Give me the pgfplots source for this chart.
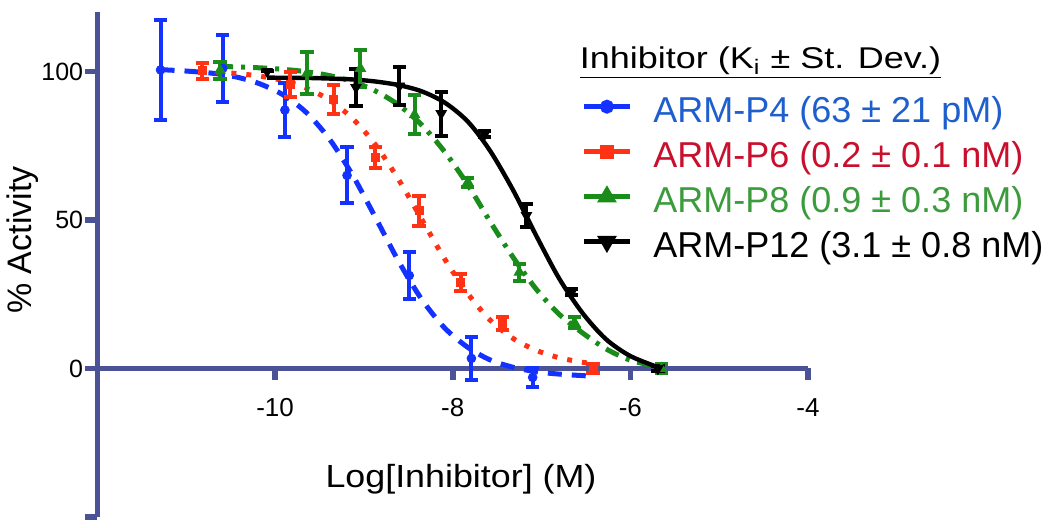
\documentclass[border=0pt]{standalone}
\usepackage{fontspec}
\setmainfont{Liberation Sans}
\usepackage{pgfplots}
\usepackage{pgfplotstable}
\pgfplotsset{compat=1.18}
\usepackage{graphicx}

\definecolor{axc}{RGB}{75,83,150}
\definecolor{cblue}{RGB}{20,50,255}
\definecolor{cred}{RGB}{255,50,20}
\definecolor{cgreen}{RGB}{25,140,25}
\definecolor{tblue}{RGB}{30,95,205}
\definecolor{tred}{RGB}{200,15,45}
\definecolor{tgreen}{RGB}{60,155,60}

% data points: log concentration, % activity, st. dev.
\pgfplotstableread{
x y e
-11.29 100.5 16.8
-10.59 101.0 11.2
-9.89 87.0 9.0
-9.19 65.0 9.4
-8.49 31.3 7.8
-7.79 3.4 7.3
-7.10 -3.0 3.1
}\dataPfour
\pgfplotstableread{
x y e
-10.82 100.2 2.8
-9.83 95.5 4.2
-9.34 90.5 5.0
-8.87 71.0 3.5
-8.38 53.1 5.0
-7.91 29.0 2.8
-7.44 15.1 2.2
-6.42 0.0 1.5
}\dataPsix
\pgfplotstableread{
x y e
-10.62 100.4 2.8
-9.64 99.4 7.0
-9.04 101.0 6.2
-8.43 85.4 6.5
-7.83 62.7 1.5
-7.25 32.4 2.8
-6.63 15.5 1.9
-5.65 0.0 1.5
}\dataPeight
\pgfplotstableread{
x y e
-10.09 100.0 0.0
-9.09 94.6 6.2
-8.60 95.1 6.3
-8.13 85.8 7.4
-7.64 78.9 1.0
-7.17 51.5 4.0
-6.66 25.7 1.0
-5.69 0.0 1.0
}\dataPtwelve

\pgfplotsset{
  ebar/.style={error bars/.cd, y dir=both, y explicit,
    error bar style={line width=2pt, #1, solid},
    error mark options={#1, line width=2pt, mark size=3.3pt, solid, rotate=90}},
}

\begin{document}
\begin{tikzpicture}
\begin{axis}[
  name=ax,
  width=355.25pt, height=252.5pt, scale only axis,
  xmin=-12, xmax=-4, ymin=-50, ymax=120,
  axis x line=middle, axis y line=left,
  axis line style={axc, line width=2.8pt, -},
  every tick/.style={axc, line width=2.8pt},
  tick align=outside,
  major tick length=6pt,
  xtick={-10,-8,-6,-4}, xticklabels={-10,-8,-6,-4},
  ytick={-50,0,50,100}, yticklabels={,0,50,100},
  xticklabel style={font=\fontsize{13}{15}\selectfont, anchor=base, inner sep=0pt, yshift=-18pt},
  yticklabel style={font=\fontsize{12.5}{15}\selectfont, anchor=east, inner sep=0pt, xshift=-1pt},
  xlabel={\scalebox{1.12}[1]{Log[Inhibitor] (M)}},
  xlabel style={font=\fontsize{16}{18}\selectfont, at={(axis description cs:0.5116,0.0594)}, anchor=base, inner sep=0pt},
  ylabel={\% Activity},
  ylabel style={font=\fontsize{17}{19}\selectfont, at={(axis description cs:-0.0926,0.5485)}, anchor=base, rotate=0, inner sep=0pt},
  clip=false,
  legend style={at={(axis cs:-6.551,91.5)}, anchor=north west, draw=none, fill=none,
    inner sep=0pt, outer sep=0pt, font=\fontsize{18}{20}\selectfont, row sep=5.5pt,
    nodes={inner sep=0pt, text height=13pt, text depth=4pt},
    /tikz/every odd column/.append style={column sep=10.5pt}},
  legend cell align=left,
  legend image code/.code={\draw[mark repeat=2, mark phase=2, #1] plot coordinates {(0pt,3.5pt) (11.5pt,3.5pt) (23pt,3.5pt)};},
]

% fitted curves
\addplot[forget plot, cblue, line width=2.5pt, dash pattern=on 7pt off 5pt, smooth] coordinates {
(-11.29,100.6) (-10.99,100.1) (-10.68,99.3) (-10.42,98.0) (-10.17,95.8) (-9.91,92.1)
(-9.65,86.2) (-9.39,77.3) (-9.13,65.2) (-8.87,50.8) (-8.61,36.1) (-8.35,23.3)
(-8.09,13.6) (-7.83,7.1) (-7.58,2.9) (-7.32,0.4) (-7.06,-1.1) (-6.80,-1.9)
(-6.54,-2.4) (-6.48,-2.5)};
\addplot[forget plot, cred, line width=2.5pt, dash pattern=on 2.5pt off 5pt, smooth] coordinates {
(-10.83,100.0) (-10.68,99.8) (-10.42,99.25) (-10.17,98.4) (-9.91,96.9) (-9.65,94.4)
(-9.39,90.4) (-9.13,84.2) (-8.87,75.3) (-8.61,63.6) (-8.35,50.25) (-8.09,36.8)
(-7.83,25.2) (-7.58,16.3) (-7.32,10.1) (-7.06,6.1) (-6.80,3.6) (-6.54,2.1) (-6.42,1.6)};
\addplot[forget plot, cgreen, line width=2.5pt, dash pattern=on 7pt off 4pt on 2pt off 4pt, smooth] coordinates {
(-10.63,101.7) (-10.42,101.5) (-10.17,101.2) (-9.91,100.7) (-9.65,99.9) (-9.39,98.6)
(-9.13,96.6) (-8.87,93.4) (-8.61,88.7) (-8.35,82.0) (-8.09,72.9) (-7.83,61.8)
(-7.58,49.5) (-7.32,37.4) (-7.06,26.7) (-6.80,18.2) (-6.54,12.0) (-6.28,6.7)
(-6.02,3.0) (-5.76,1.0) (-5.65,0.3)};
\addplot[forget plot, black, line width=2.2pt, smooth] coordinates {
(-10.09,97.9) (-9.65,97.8) (-9.39,97.6) (-9.13,97.3) (-8.87,96.6) (-8.61,95.4)
(-8.35,93.3) (-8.09,89.5) (-7.83,83.1) (-7.58,73.3) (-7.32,60.0) (-7.06,44.7)
(-6.80,30.2) (-6.54,18.7) (-6.28,10.0) (-6.02,4.5) (-5.76,1.2) (-5.69,0.5)};

% data with error bars
\addplot[forget plot, cblue, only marks, mark=*, mark size=2.2pt, ebar=cblue]
  table[x=x, y=y, y error=e] {\dataPfour};
\addplot[forget plot, cred, only marks, mark=square*, mark size=2pt, ebar=cred]
  table[x=x, y=y, y error=e] {\dataPsix};
\addplot[forget plot, cgreen, only marks, mark=triangle*, mark size=3pt, ebar=cgreen]
  table[x=x, y=y, y error=e] {\dataPeight};
\addplot[forget plot, black, only marks, mark=triangle*, mark options={rotate=180}, mark size=3pt, ebar=black]
  table[x=x, y=y, y error=e] {\dataPtwelve};

% legend
\addlegendimage{cblue, line width=2.5pt, mark=*, mark size=2.2pt}
\addlegendentry{\textcolor{tblue}{ARM-P4 (63 ± 21 pM)}}
\addlegendimage{cred, line width=2.5pt, mark=square*, mark size=2.2pt}
\addlegendentry{\textcolor{tred}{ARM-P6 (0.2 ± 0.1 nM)}}
\addlegendimage{cgreen, line width=2.5pt, mark=triangle*, mark size=3.2pt}
\addlegendentry{\textcolor{tgreen}{ARM-P8 (0.9 ± 0.3 nM)}}
\addlegendimage{black, line width=2.5pt, mark=triangle*, mark options={rotate=180}, mark size=3.2pt}
\addlegendentry{ARM-P12 (3.1 ± 0.8 nM)}

\node[anchor=base west, inner sep=0pt, font=\fontsize{15}{17}\selectfont] at (axis cs:-6.574,100.9)
  {\scalebox{1.2}[1]{\underline{Inhibitor (K\textsubscript{i} ± St. Dev.)}}};
\end{axis}
\pgfresetboundingbox
\path ([shift={(-48.75pt,-5pt)}]ax.south west) rectangle ([shift={(476.25pt,258.5pt)}]ax.south west);
\end{tikzpicture}
\end{document}
